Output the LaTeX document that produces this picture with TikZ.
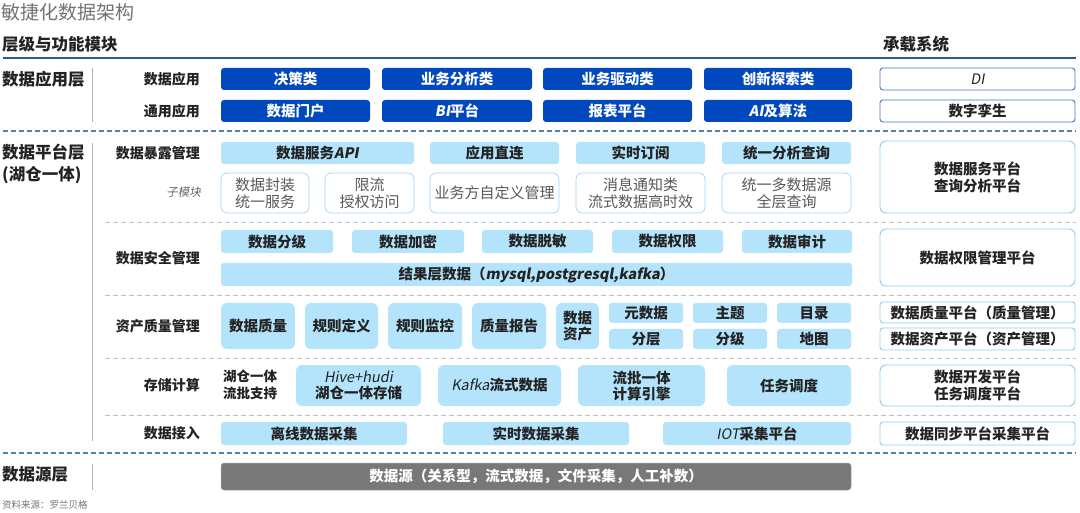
\documentclass[tikz,border=0pt]{standalone}
\usepackage{fontspec}
\setmainfont{Noto Sans CJK SC}
\newfontfamily\slfont{Noto Sans CJK SC}[FakeSlant=0.18]
\definecolor{dkblue}{RGB}{0,72,190}
\definecolor{ltfill}{RGB}{180,228,252}
\definecolor{ltline}{RGB}{140,205,245}
\definecolor{hdline}{RGB}{40,90,140}
\definecolor{dsblue}{RGB}{80,130,170}
\definecolor{dsgray}{RGB}{190,190,190}
\definecolor{txt}{RGB}{35,35,35}
\definecolor{srcgray}{RGB}{120,120,120}
\newcommand\mybox[7]{\node[#2, minimum width={(#5)-(#3)}, minimum height={(#6)-(#4)}] (#1) at ({((#3)+(#5))/2},{-((#4)+(#6))/2}) {#7};}
\newcommand\slt[1]{{\slfont #1}}
\begin{document}
\begin{tikzpicture}[x=1pt,y=1pt,
  base/.style={inner sep=0pt, outer sep=0pt, align=center, rounded corners=3pt},
  appbox/.style={base, fill=dkblue, text=white, font=\bfseries\fontsize{14.5}{16}\selectfont},
  sysbox/.style={base, draw=dkblue!75, line width=0.9pt, fill=white, text=txt, font=\bfseries\fontsize{14.5}{16}\selectfont},
  platbox/.style={base, draw=ltline, line width=0.9pt, fill=white, text=txt, rounded corners=6pt, font=\bfseries\fontsize{14.5}{17}\selectfont},
  lbox/.style={base, fill=ltfill, text=txt, font=\bfseries\fontsize{14.5}{16}\selectfont},
  subbox/.style={base, draw=ltline!80, line width=0.7pt, fill=white, text=black!65, rounded corners=6pt, font=\fontsize{15}{17}\selectfont},
  srcbox/.style={base, fill=srcgray, draw=black!35, line width=0.5pt, text=white, font=\bfseries\fontsize{14.5}{16}\selectfont},
  lab/.style={inner sep=0pt, text=txt, font=\bfseries\fontsize{14}{16}\selectfont},
  layer/.style={inner sep=0pt, anchor=west, text=txt, align=left, font=\bfseries\fontsize{16.5}{22}\selectfont},
  vline/.style={draw=black!30, line width=0.8pt},
  bdash/.style={draw=dsblue, line width=1.3pt, dash pattern=on 5pt off 3pt},
  gdash/.style={draw=dsgray, line width=0.9pt, dash pattern=on 5pt off 3pt}
]
\useasboundingbox[fill=white] (0,0) rectangle (1080,-513);

% titles
\node[inner sep=0pt, anchor=west, text=black!55, font=\fontsize{19}{22}\selectfont] (title) at (1,-12) {敏捷化数据架构};
\node[inner sep=0pt, anchor=west, text=txt, font=\bfseries\fontsize{16.5}{19}\selectfont] (hleft) at (2,-44) {层级与功能模块};
\node[inner sep=0pt, anchor=west, text=txt, font=\bfseries\fontsize{16.5}{19}\selectfont] (hright) at (883,-44) {承载系统};
\coordinate (h1) at (3,-58); \coordinate (h2) at (1076,-58);
\draw[draw=hdline, line width=1.2pt] (h1) -- (h2);

% ---------- application layer
\node[layer] (L1) at (2,-79) {数据应用层};
\coordinate (v1a) at (92,-68); \coordinate (v1b) at (92,-122);
\draw[vline] (v1a) -- (v1b);
\node[lab, anchor=east] (a1) at (200,-79) {数据应用};
\node[lab, anchor=east] (a2) at (200,-111) {通用应用};
\mybox{d1}{appbox}{221}{68}{370}{90}{决策类}
\mybox{d2}{appbox}{382}{68}{532}{90}{业务分析类}
\mybox{d3}{appbox}{543}{68}{692}{90}{业务驱动类}
\mybox{d4}{appbox}{704}{68}{852}{90}{创新探索类}
\mybox{g1}{appbox}{221}{100}{370}{122}{数据门户}
\mybox{g2}{appbox}{382}{100}{532}{122}{\slt{BI}平台}
\mybox{g3}{appbox}{543}{100}{692}{122}{报表平台}
\mybox{g4}{appbox}{704}{100}{852}{122}{\slt{AI}及算法}
\mybox{s1}{sysbox}{880}{68}{1075}{90}{\slt{\mdseries DI}}
\mybox{s2}{sysbox}{880}{100}{1075}{122}{数字孪生}

\coordinate (b1a) at (3,-131); \coordinate (b1b) at (1076,-131);
\draw[bdash] (b1a) -- (b1b);

% ---------- platform layer
\node[layer] (L2) at (2,-164) {数据平台层\\(湖仓一体)};
\coordinate (v2a) at (92,-143); \coordinate (v2b) at (92,-441);
\draw[vline] (v2a) -- (v2b);

% exposure
\node[lab, anchor=east] (e0) at (200,-153) {数据暴露管理};
\node[inner sep=0pt, anchor=east, text=black!60, font=\slfont\fontsize{11.5}{13}\selectfont] (e00) at (201,-192) {子模块};
\mybox{e1}{lbox}{221}{142}{414}{164}{数据服务\slt{API}}
\mybox{e2}{lbox}{430}{142}{559}{164}{应用直连}
\mybox{e3}{lbox}{576}{142}{705}{164}{实时订阅}
\mybox{e4}{lbox}{722}{142}{851}{164}{统一分析查询}
\mybox{f1}{subbox}{221}{173}{309}{213}{数据封装\\统一服务}
\mybox{f2}{subbox}{325}{173}{414}{213}{限流\\授权访问}
\mybox{f3}{subbox}{430}{173}{559}{213}{业务方自定义管理}
\mybox{f4}{subbox}{576}{173}{705}{213}{消息通知类\\流式数据高时效}
\mybox{f5}{subbox}{722}{173}{851}{213}{统一多数据源\\全层查询}
\mybox{s3}{platbox}{880}{141}{1075}{213}{数据服务平台\\查询分析平台}

\coordinate (g1a) at (105,-222); \coordinate (g1b) at (1076,-222);
\draw[gdash] (g1a) -- (g1b);

% security
\node[lab, anchor=east] (k0) at (200,-258) {数据安全管理};
\mybox{k1}{lbox}{221}{230}{333}{253}{数据分级}
\mybox{k2}{lbox}{352}{230}{464}{253}{数据加密}
\mybox{k3}{lbox}{482}{230}{593}{253}{数据脱敏}
\mybox{k4}{lbox}{612}{230}{723}{253}{数据权限}
\mybox{k5}{lbox}{742}{230}{852}{253}{数据审计}
\mybox{k6}{lbox}{221}{263}{852}{286}{结果层数据（\slt{mysql,postgresql,kafka}）}
\mybox{s4}{platbox}{880}{229}{1075}{286}{数据权限管理平台}

\coordinate (g2a) at (105,-295); \coordinate (g2b) at (1076,-295);
\draw[gdash] (g2a) -- (g2b);

% asset quality
\node[lab, anchor=east] (q0) at (200,-326) {资产质量管理};
\tikzset{qbox/.style={lbox, rounded corners=6pt}}
\mybox{q1}{qbox}{221}{303}{295}{349}{数据质量}
\mybox{q2}{qbox}{305}{303}{378}{349}{规则定义}
\mybox{q3}{qbox}{388}{303}{462}{349}{规则监控}
\mybox{q4}{qbox}{472}{303}{546}{349}{质量报告}
\mybox{q5}{qbox}{556}{303}{599}{349}{数据\\资产}
\mybox{q6}{lbox}{609}{303}{683}{323}{元数据}
\mybox{q7}{lbox}{693}{303}{767}{323}{主题}
\mybox{q8}{lbox}{777}{303}{851}{323}{目录}
\mybox{q9}{lbox}{609}{329}{683}{349}{分层}
\mybox{q10}{lbox}{693}{329}{767}{349}{分级}
\mybox{q11}{lbox}{777}{329}{851}{349}{地图}
\tikzset{platbox2/.style={platbox, rounded corners=3pt}}
\mybox{s5}{platbox2}{880}{302}{1075}{323}{数据质量平台（质量管理）}
\mybox{s6}{platbox2}{880}{328}{1075}{350}{数据资产平台（资产管理）}

\coordinate (g3a) at (105,-358); \coordinate (g3b) at (1076,-358);
\draw[gdash] (g3a) -- (g3b);

% storage & compute
\node[lab, anchor=east] (c0) at (200,-385) {存储计算};
\node[lab, anchor=west, align=left, font=\bfseries\fontsize{13.5}{17}\selectfont] (c00) at (223,-385) {湖仓一体\\流批支持};
\mybox{c1}{qbox}{296}{365}{421}{406}{\slt{\mdseries Hive+hudi}\\湖仓一体存储}
\mybox{c2}{qbox}{438}{365}{561}{406}{\slt{\mdseries Kafka}流式数据}
\mybox{c3}{qbox}{578}{365}{705}{406}{流批一体\\计算引擎}
\mybox{c4}{qbox}{727}{365}{851}{406}{任务调度}
\mybox{s7}{platbox}{880}{365}{1075}{406}{数据开发平台\\任务调度平台}

\coordinate (g4a) at (105,-415); \coordinate (g4b) at (1076,-415);
\draw[gdash] (g4a) -- (g4b);

% ingestion
\node[lab, anchor=east] (i0) at (200,-433) {数据接入};
\mybox{i1}{lbox}{221}{422}{407}{445}{离线数据采集}
\mybox{i2}{lbox}{443}{422}{629}{445}{实时数据采集}
\mybox{i3}{lbox}{663}{422}{851}{445}{\slt{\mdseries IOT}采集平台}
\mybox{s8}{platbox2}{880}{422}{1075}{445}{数据同步平台采集平台}

\coordinate (b2a) at (3,-453); \coordinate (b2b) at (1076,-453);
\draw[bdash] (b2a) -- (b2b);

% ---------- source layer
\node[layer] (L3) at (2,-474) {数据源层};
\coordinate (v3a) at (92,-464); \coordinate (v3b) at (92,-490);
\draw[vline] (v3a) -- (v3b);
\mybox{src}{srcbox}{221}{463}{851}{490}{数据源（关系型，流式数据，文件采集，人工补数）}

\node[inner sep=0pt, anchor=west, text=black!55, font=\fontsize{9.5}{11}\selectfont] (note) at (2,-505) {资料来源：罗兰贝格};
\end{tikzpicture}
\end{document}
